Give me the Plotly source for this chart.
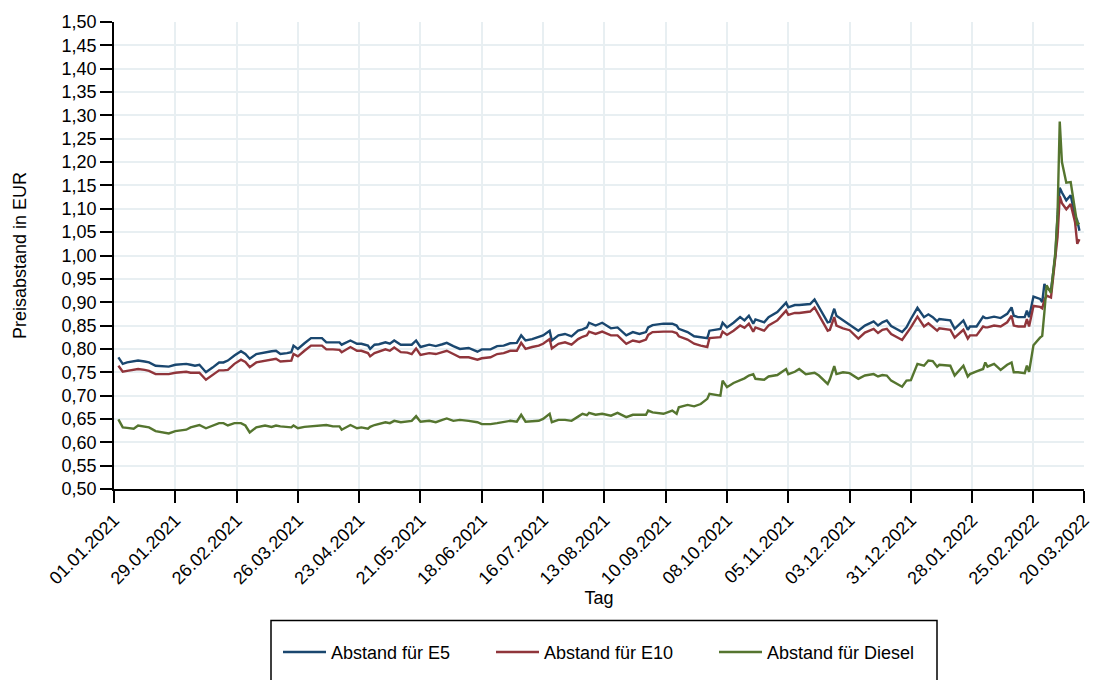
import pandas as pd
import plotly.graph_objects as go

start_date = "2021-01-01"
# day offsets from 01.01.2021
day_offset = [2, 4, 6, 9, 11, 14, 16, 19, 22, 25, 28, 31, 33, 35, 37, 39, 42, 45, 48, 50,
              52, 55, 58, 60, 62, 65, 69, 72, 74, 76, 79, 81, 82, 84, 87, 90, 95, 97, 100, 103,
              104, 108, 111, 113, 116, 117, 119, 121, 124, 126, 128, 131, 134, 136, 138, 140, 144, 147, 150, 152,
              155, 158, 162, 166, 168, 172, 175, 178, 181, 184, 186, 188, 191, 194, 196, 199, 200, 203, 206, 209,
              212, 214, 216, 217, 220, 223, 227, 230, 234, 237, 240, 243, 244, 246, 251, 255, 257, 258, 262, 265,
              268, 271, 272, 277, 278, 280, 283, 286, 288, 290, 292, 293, 297, 299, 303, 307, 308, 311, 313, 316,
              318, 320, 322, 326, 327, 329, 330, 333, 336, 340, 343, 347, 349, 351, 353, 355, 360, 362, 364, 367,
              370, 372, 374, 376, 377, 382, 384, 388, 390, 391, 394, 397, 398, 399, 402, 405, 408, 410, 411, 413,
              416, 417, 418, 420, 423, 424, 425, 426, 428, 430, 431, 432, 433, 435, 437, 439, 440, 441]

e5 = [.782, .768, .771, .773, .775, .773, .771, .764, .763, .762, .766, .767, .768, .766, .764, .766, .750, .760, .771, .771,
      .775, .786, .795, .789, .779, .789, .793, .795, .796, .789, .791, .793, .807, .800, .812, .823, .823, .814, .814, .814,
      .809, .818, .811, .811, .807, .800, .809, .810, .814, .811, .818, .809, .809, .809, .818, .804, .809, .806, .810, .813,
      .806, .800, .802, .794, .799, .799, .806, .807, .812, .813, .829, .818, .821, .825, .829, .839, .818, .829, .832, .827,
      .839, .842, .846, .856, .850, .856, .844, .846, .829, .836, .832, .836, .846, .851, .854, .854, .850, .843, .836, .827,
      .825, .823, .839, .843, .856, .846, .856, .868, .861, .871, .854, .863, .857, .868, .879, .899, .889, .894, .894, .895,
      .896, .906, .889, .857, .858, .886, .871, .861, .852, .839, .850, .859, .850, .857, .861, .849, .836, .846, .864, .888,
      .868, .874, .868, .859, .864, .861, .843, .861, .841, .848, .848, .869, .866, .866, .869, .866, .875, .889, .871, .868,
      .868, .882, .868, .912, .907, .900, .939, .930, .925, 1.000, 1.085, 1.145, 1.135, 1.118, 1.129, 1.085, 1.075, 1.053]

e10 = [.764, .751, .753, .755, .757, .755, .753, .746, .746, .746, .749, .750, .751, .749, .749, .749, .734, .744, .754, .754,
       .755, .768, .777, .772, .761, .771, .775, .778, .779, .773, .774, .775, .789, .784, .796, .807, .807, .799, .799, .798,
       .793, .804, .796, .796, .791, .784, .791, .794, .799, .796, .803, .793, .792, .789, .801, .787, .791, .789, .793, .796,
       .789, .782, .782, .777, .780, .782, .789, .791, .796, .796, .813, .800, .804, .807, .811, .821, .801, .811, .814, .809,
       .821, .826, .829, .837, .832, .837, .829, .829, .811, .818, .815, .820, .830, .836, .837, .837, .834, .827, .820, .811,
       .807, .804, .823, .825, .837, .830, .839, .850, .845, .854, .837, .846, .839, .850, .861, .882, .873, .877, .877, .879,
       .880, .889, .873, .839, .841, .868, .850, .844, .840, .822, .835, .843, .834, .841, .843, .832, .819, .832, .846, .869,
       .848, .855, .846, .839, .844, .841, .824, .841, .822, .829, .829, .848, .846, .846, .850, .848, .857, .871, .850, .848,
       .848, .864, .848, .892, .890, .887, .905, .914, .910, .990, 1.040, 1.127, 1.112, 1.099, 1.110, 1.071, 1.025, 1.035]

diesel = [.649, .632, .631, .629, .636, .634, .632, .624, .621, .619, .624, .625, .627, .632, .634, .637, .630, .636, .641, .641,
          .636, .641, .641, .636, .621, .632, .636, .633, .636, .634, .632, .632, .636, .630, .633, .634, .636, .637, .634, .634,
          .627, .637, .630, .632, .629, .633, .637, .640, .643, .641, .646, .643, .645, .646, .656, .644, .646, .643, .648, .651,
          .646, .648, .646, .643, .639, .639, .641, .643, .646, .644, .659, .644, .645, .646, .650, .661, .643, .648, .648, .646,
          .655, .661, .658, .663, .659, .661, .657, .663, .654, .659, .659, .659, .668, .664, .661, .668, .661, .675, .680, .677,
          .682, .693, .704, .700, .732, .718, .727, .732, .737, .743, .746, .736, .734, .741, .744, .757, .746, .751, .757, .746,
          .748, .749, .743, .725, .735, .763, .746, .750, .748, .736, .743, .746, .741, .744, .743, .732, .719, .732, .733, .768,
          .764, .775, .774, .762, .766, .764, .743, .764, .741, .746, .752, .757, .771, .762, .768, .755, .766, .771, .750, .750,
          .748, .764, .751, .808, .824, .828, .879, .936, .920, 1.007, 1.088, 1.287, 1.200, 1.156, 1.157, 1.099, 1.067, 1.070]

tick_dates = ["2021-01-01", "2021-01-29", "2021-02-26", "2021-03-26", "2021-04-23", "2021-05-21",
              "2021-06-18", "2021-07-16", "2021-08-13", "2021-09-10", "2021-10-08", "2021-11-05",
              "2021-12-03", "2021-12-31", "2022-01-28", "2022-02-25", "2022-03-20"]
tick_labels = ["01.01.2021", "29.01.2021", "26.02.2021", "26.03.2021", "23.04.2021", "21.05.2021",
               "18.06.2021", "16.07.2021", "13.08.2021", "10.09.2021", "08.10.2021", "05.11.2021",
               "03.12.2021", "31.12.2021", "28.01.2022", "25.02.2022", "20.03.2022"]

series_names = ["Abstand für E5", "Abstand für E10", "Abstand für Diesel"]
series_colors = ["#1a476f", "#90353b", "#55752f"]
legend_ids = ["legend", "legend2", "legend3"]

dates = pd.Timestamp(start_date) + pd.to_timedelta(day_offset, unit="D")

fig = go.Figure()
for name, vals, col, lg in zip(series_names, [e5, e10, diesel], series_colors, legend_ids):
    fig.add_trace(go.Scatter(x=dates, y=vals, mode="lines", name=name, legend=lg,
                             line=dict(color=col, width=2.4)))

font_family = "Arial, Liberation Sans, sans-serif"
grid_col = "#e8eff2"
M_L, M_R, M_T, M_B = 114, 9, 22, 189
W_PLOT = 1093 - M_L - M_R
H_PLOT = 680 - M_T - M_B


def px_x(px):
    return (px - M_L) / W_PLOT


def px_y(py):
    return (680 - M_B - py) / H_PLOT


leg_common = dict(orientation="h", yanchor="middle", xanchor="left", y=px_y(655),
                  bgcolor="rgba(0,0,0,0)", borderwidth=0, font=dict(size=18),
                  itemwidth=43)

fig.update_layout(
    width=1093, height=680,
    margin=dict(l=M_L, r=M_R, t=M_T, b=M_B),
    paper_bgcolor="white", plot_bgcolor="white",
    separators=",.",
    font=dict(family=font_family, size=18, color="black"),
    showlegend=True,
    legend=dict(x=px_x(278), **leg_common),
    legend2=dict(x=px_x(491), **leg_common),
    legend3=dict(x=px_x(714), **leg_common),
    xaxis=dict(
        type="date", range=["2021-01-01", "2022-03-20 02:00"], automargin=False,
        tickvals=tick_dates, ticktext=tick_labels, tickangle=-45,
        ticklabeloverflow="allow",
        showgrid=True, gridcolor=grid_col, gridwidth=2,
        showline=True, linecolor="black", linewidth=1.5,
        ticks="outside", ticklen=12, tickwidth=1.5, tickcolor="black",
        tickfont=dict(size=18), zeroline=False,
        title=dict(text="Tag", font=dict(size=18), standoff=3),
    ),
    yaxis=dict(
        range=[0.5, 1.5], dtick=0.05, tick0=0.5, tickformat=".2f", automargin=False,
        showgrid=True, gridcolor=grid_col, gridwidth=2,
        showline=True, linecolor="black", linewidth=1.5,
        ticks="outside", ticklen=12, tickwidth=1.5, tickcolor="black",
        tickfont=dict(size=18), zeroline=False,
        title=dict(text="Preisabstand in EUR", font=dict(size=18), standoff=30),
    ),
    shapes=[dict(type="rect", xref="paper", yref="paper",
                 x0=px_x(271), x1=px_x(937), y0=px_y(700), y1=px_y(623),
                 line=dict(color="black", width=1.5), fillcolor="rgba(0,0,0,0)", layer="above")],
)

fig.write_html("out.html", config={"displayModeBar": False},
               post_script="document.body.style.margin='0';")
